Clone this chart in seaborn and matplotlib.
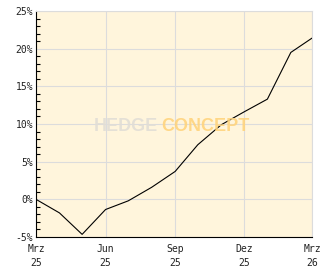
import matplotlib
matplotlib.use("Agg")
import matplotlib.pyplot as plt
from matplotlib.ticker import MultipleLocator, FuncFormatter
import seaborn as sns
import pandas as pd

months = ["2025-03", "2025-04", "2025-05", "2025-06", "2025-07", "2025-08", "2025-09",
          "2025-10", "2025-11", "2025-12", "2026-01", "2026-02", "2026-03"]
perf = [0.0, -1.8, -4.65, -1.35, -0.2, 1.6, 3.7, 7.25, 9.9, 11.6, 13.3, 19.5, 21.4]
tick_months = ["2025-03", "2025-06", "2025-09", "2025-12", "2026-03"]
tick_labels = ["Mrz\n25", "Jun\n25", "Sep\n25", "Dez\n25", "Mrz\n26"]

df = pd.DataFrame({"date": pd.to_datetime(months), "perf": perf})

sns.set_theme(style="white")
plt.rcParams["font.family"] = ["DejaVu Sans Mono", "DejaVu Sans"]

fig = plt.figure(figsize=(3.32, 2.69), dpi=100)
ax = fig.add_axes([36/332, 1-237/269, 276/332, 226/269])
ax.set_facecolor("#FFF5DC")

sns.lineplot(data=df, x="date", y="perf", ax=ax, color="black", linewidth=0.8, zorder=3)

ax.set_xlim(pd.Timestamp(months[0]), pd.Timestamp(months[-1]))
ax.set_ylim(-5, 25)
ax.set_xlabel("")
ax.set_ylabel("")

ax.set_xticks(pd.to_datetime(tick_months))
ax.set_xticklabels(tick_labels, fontsize=7, color="#222222", linespacing=1.5)
ax.yaxis.set_major_locator(MultipleLocator(5))
ax.yaxis.set_minor_locator(MultipleLocator(1))
ax.yaxis.set_major_formatter(FuncFormatter(lambda v, p: f"{int(v)}%"))
for lab in ax.get_yticklabels():
    lab.set_fontsize(7)
    lab.set_color("#222222")

ax.tick_params(axis="y", which="major", direction="in", length=4, width=0.8, color="black", pad=2, labelsize=7)
ax.tick_params(axis="y", which="minor", direction="in", length=3, width=0.8, color="black", left=True)
ax.tick_params(axis="x", which="major", direction="in", length=4, width=0.8, color="black", pad=5, labelsize=7)

ax.grid(True, which="major", color="#DCDCDC", linewidth=0.8, zorder=0)
ax.set_axisbelow(True)
for side in ["top", "right"]:
    ax.spines[side].set_color("#DCDCDC")
    ax.spines[side].set_linewidth(0.8)
for side in ["left", "bottom"]:
    ax.spines[side].set_color("black")
    ax.spines[side].set_linewidth(0.8)

wm_font = ["Liberation Sans Narrow", "Liberation Sans"]
ax.text(0.442, 0.469, "HEDGE", transform=ax.transAxes, fontsize=13, fontweight="heavy",
        family=wm_font, color="#E2DED6", alpha=0.9, ha="right", va="baseline", zorder=4)
ax.text(0.455, 0.469, "CONCEPT", transform=ax.transAxes, fontsize=13, fontweight="heavy",
        family=wm_font, color="#FFD47E", alpha=0.9, ha="left", va="baseline", zorder=4)

fig.savefig("out.png", dpi=100)
